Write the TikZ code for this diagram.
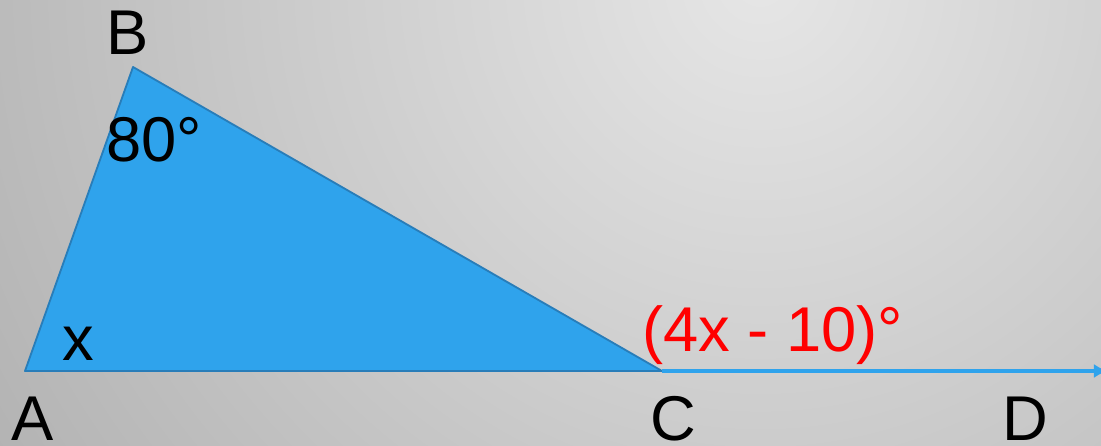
\documentclass[tikz,border=0pt]{standalone}
\usepackage{fontspec}
\setmainfont{Liberation Sans}
\usetikzlibrary{arrows.meta}
\definecolor{triblue}{RGB}{47,163,236}
\definecolor{triedge}{RGB}{40,125,185}
\definecolor{bglight}{RGB}{230,230,230}
\definecolor{bgdark}{RGB}{176,176,176}
\begin{document}
\begin{tikzpicture}[x=0.025cm,y=-0.025cm,>=latex]
	\tikzset{
		lbl/.style={anchor=base, inner sep=0, font=\fontsize{45}{48}\selectfont},
		ray/.style={draw=triblue, line width=3.3pt, -{Latex[length=10pt,width=10pt]}},
	}
	\useasboundingbox (0,0) rectangle (1101,446);
	\begin{scope}
		\clip (0,0) rectangle (1101,446);
		\shade[inner color=bglight, outer color=bgdark] (760,-20) circle (23.75cm);
	\end{scope}
	% points of the triangle and the ray
	\coordinate (A) at (25,371);
	\coordinate (B) at (133,67);
	\coordinate (C) at (662,371);
	\coordinate (D) at (1108,371);
	\draw[draw=triedge, fill=triblue, line width=1.3pt, line join=round] (A) -- (B) -- (C) -- cycle;
	\draw[ray] (C) -- (D);
	% labels
	\node[lbl] (labB) at (128,55) {B};
	\node[lbl] (labA) at (33,441) {A};
	\node[lbl] (labC) at (673,441) {C};
	\node[lbl] (labD) at (1025,441) {D};
	\node[lbl, anchor=base west] (angB) at (106,162) {80°};
	\node[lbl, anchor=base] (angA) at (78,361) {x};
	\node[lbl, anchor=base west, text=red] (angC) at (642,352) {(4x - 10)°};
\end{tikzpicture}
\end{document}
